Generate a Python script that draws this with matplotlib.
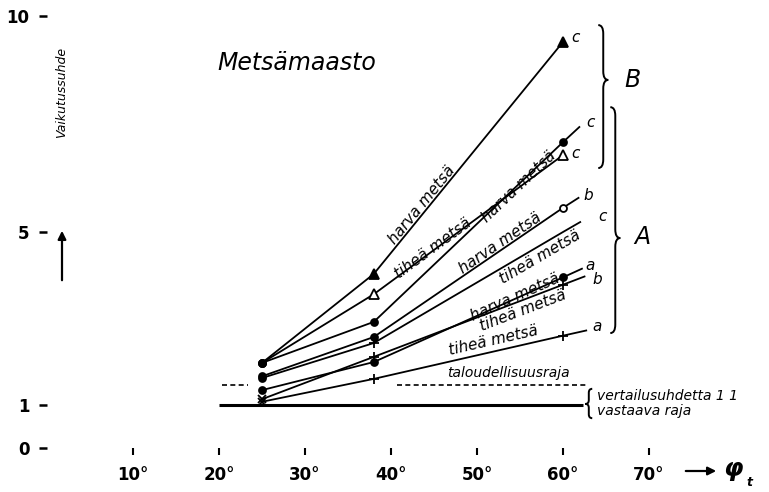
import numpy as np
import matplotlib
matplotlib.use("Agg")
import matplotlib.pyplot as plt
from matplotlib.path import Path
from matplotlib.patches import PathPatch

# kaltevuus phi_t (deg) where the ratios were measured
phi = [25, 38, 60]

# vaikutussuhde per curve
harva_B = [1.97, 4.03, 9.40]
tihea_B = [1.97, 3.56, 6.78]
harva_c = [1.97, 2.92, 7.08]
tihea_c = [1.62, 2.43, 5.00]
harva_b = [1.66, 2.57, 5.56]
tihea_b = [1.13, 2.11, 3.78]
harva_a = [1.34, 1.99, 3.95]
tihea_a = [1.07, 1.60, 2.60]

# where each curve stops to the right of 60 deg
tail_phi = [60.0, 60.0, 61.9, 62.0, 61.8, 62.5, 62.2, 62.7]
tail_val = [9.40, 6.78, 7.43, 5.23, 5.79, 3.97, 4.15, 2.72]

curve_names = ["harva metsä", "tiheä metsä", "harva metsä", "tiheä metsä",
               "harva metsä", "tiheä metsä", "harva metsä", "tiheä metsä"]
curve_letters = ["c", "c", "c", "c", "b", "b", "a", "a"]

economy_limit = 1.45
parity_limit = 1.0

x_ticks = [10, 20, 30, 40, 50, 60, 70]
y_ticks = [0, 1, 5, 10]

series = [harva_B, tihea_B, harva_c, tihea_c, harva_b, tihea_b, harva_a, tihea_a]

# marker per point: (marker, filled)
markers = [
    [("o", True), ("^", True), ("^", True)],
    [("o", True), ("^", False), ("^", False)],
    [("o", True), ("o", True), ("o", True)],
    [("o", True), ("+", True), None],
    [("o", True), ("o", True), ("o", False)],
    [("x", True), ("+", True), ("+", True)],
    [("o", True), ("o", True), ("o", True)],
    [("x", True), ("+", True), ("+", True)],
]
marker_size = {"o": 5, "^": 6.5, "+": 6.5, "x": 6}

# name label centre (phi, value) and letter offsets (points)
name_pos = [(43.6, 5.62), (44.9, 4.63), (54.8, 6.06), (57.3, 4.42),
            (52.7, 4.74), (55.3, 3.17), (54.4, 3.50), (51.9, 2.48)]
letter_off = [(9, 3), (9, 1), (8, 3), (16, 4), (7, 2), (9, -2), (6, 2), (8, 3)]

ITAL = dict(family="DejaVu Sans", style="italic", color="black")

fig = plt.figure(figsize=(7.69, 4.92), dpi=100)
ax = fig.add_axes([47 / 769, 44 / 492, 722 / 769, 448 / 492])
ax.set_xlim(0, 722 / 8.6)
ax.set_ylim(0, 448 / 43.2)
for s in ax.spines.values():
    s.set_visible(False)

ax.set_xticks(x_ticks)
ax.set_xticklabels([f"{t}°" for t in x_ticks])
ax.set_yticks(y_ticks)
ax.set_yticklabels([str(t) for t in y_ticks])
ax.tick_params(axis="x", direction="out", length=5, width=1.5, pad=8, labelsize=12)
ax.tick_params(axis="y", direction="out", length=5.5, width=1.8, pad=7, labelsize=12)
for lab in ax.get_xticklabels() + ax.get_yticklabels():
    lab.set_fontweight("bold")

# reference lines
ax.hlines(parity_limit, 20, 62.3, color="black", lw=2.2)
ax.hlines([economy_limit, economy_limit], [20.3, 40.7], [23.4, 62.8],
          color="black", lw=1.2, linestyles=(0, (3, 2)))

for i, vals in enumerate(series):
    xs = phi + [tail_phi[i]]
    ys = vals + [tail_val[i]]
    ax.plot(xs, ys, color="black", lw=1.3, clip_on=False)
    for j, m in enumerate(markers[i]):
        if m is None:
            continue
        mk, filled = m
        ax.plot(phi[j], vals[j], marker=mk, ms=marker_size[mk],
                mew=1.3, color="black", mfc="black" if filled else "white",
                ls="none", clip_on=False, zorder=3)
    ang = np.degrees(np.arctan2(vals[2] - vals[1], phi[2] - phi[1]))
    ax.text(*name_pos[i], curve_names[i], rotation=ang,
            transform_rotates_text=True, rotation_mode="anchor",
            ha="center", va="center", fontsize=11, **ITAL)
    ax.annotate(curve_letters[i], xy=(tail_phi[i], tail_val[i]),
                xytext=letter_off[i], textcoords="offset points",
                ha="center", va="center", fontsize=11, **ITAL)


def brace(ax, x, top, tip, bottom, w, r, side=1):
    h = x + side * w / 2
    e = x + side * w
    verts = [(x, top), (h, top), (h, top - r), (h, tip + r), (h, tip), (e, tip),
             (h, tip), (h, tip - r), (h, bottom + r), (h, bottom), (x, bottom)]
    codes = [Path.MOVETO, Path.CURVE3, Path.CURVE3, Path.LINETO, Path.CURVE3,
             Path.CURVE3, Path.CURVE3, Path.CURVE3, Path.LINETO, Path.CURVE3,
             Path.CURVE3]
    ax.add_patch(PathPatch(Path(verts, codes), fc="none", ec="black", lw=1.4,
                           clip_on=False))


brace(ax, 64.1, 9.79, 8.52, 6.48, 1.16, 0.2)
brace(ax, 65.5, 7.89, 4.86, 2.66, 1.16, 0.2)
brace(ax, 63.4, 1.37, 1.02, 0.69, 0.8, 0.09, side=-1)

ax.text(68.1, 8.52, "B", ha="center", va="center", fontsize=17, **ITAL)
ax.text(69.2, 4.88, "A", ha="center", va="center", fontsize=17, **ITAL)
ax.text(29.1, 8.91, "Metsämaasto", ha="center", va="center", fontsize=17, **ITAL)
ax.text(53.6, 1.74, "taloudellisuusraja", ha="center", va="center",
        fontsize=10, **ITAL)
ax.text(63.95, 1.20, "vertailusuhdetta 1 1", ha="left", va="center",
        fontsize=10, **ITAL)
ax.text(63.95, 0.86, "vastaava raja", ha="left", va="center", fontsize=10, **ITAL)

# axis captions with arrows (figure pixel positions)
W, H = 769, 492
fig.text(62 / W, 1 - 92 / H, "Vaikutussuhde", rotation=90, ha="center",
         va="center", fontsize=9, **ITAL)
ax.annotate("", xy=(62 / W, 1 - 228 / H), xytext=(62 / W, 1 - 283 / H),
            xycoords="figure fraction",
            arrowprops=dict(arrowstyle="-|>", color="black", lw=1.6,
                            mutation_scale=12))
ax.annotate("", xy=(719 / W, 1 - 471 / H), xytext=(683 / W, 1 - 471 / H),
            xycoords="figure fraction",
            arrowprops=dict(arrowstyle="-|>", color="black", lw=1.6,
                            mutation_scale=12))
fig.text(733 / W, 1 - 469 / H, "φ", ha="center", va="center", fontsize=18,
         fontweight="bold", **ITAL)
fig.text(749 / W, 1 - 482 / H, "t", ha="center", va="center", fontsize=9,
         fontweight="bold", **ITAL)

fig.savefig("out.png", dpi=100)
